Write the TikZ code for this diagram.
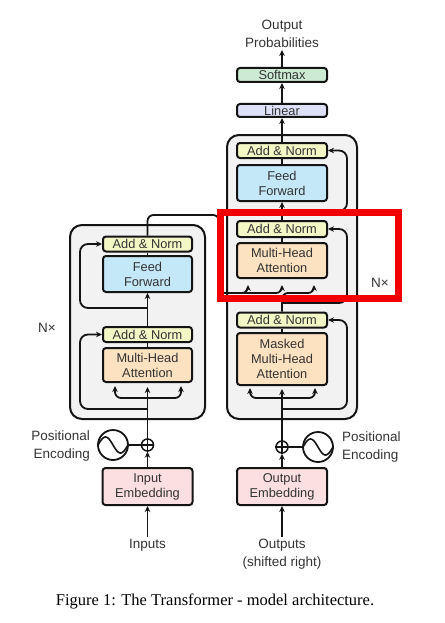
\documentclass[tikz,border=0pt]{standalone}
\usepackage{fontspec}
\setmainfont{Liberation Sans}
\newfontfamily\captionfont{Liberation Serif}
\usetikzlibrary{arrows.meta}
\definecolor{normcol}{HTML}{F3F7C6}
\definecolor{ffcol}{HTML}{C5E8F8}
\definecolor{attcol}{HTML}{FCE2C0}
\definecolor{embcol}{HTML}{FCE0E1}
\definecolor{softcol}{HTML}{CDEBD4}
\definecolor{lincol}{HTML}{DDE0F6}
\definecolor{layercol}{HTML}{F2F2F2}
\definecolor{linecol}{HTML}{141414}
\definecolor{textcol}{HTML}{333333}
\definecolor{markred}{HTML}{F20000}

\begin{document}
\begin{tikzpicture}[x=1pt, y=-1pt,
  block/.style = {draw=linecol, line width=2pt, rounded corners=3pt, text=textcol,
    font=\fontsize{12.8}{15}\selectfont, align=center, inner sep=0pt, minimum width=89pt},
  addnorm/.style = {block, fill=normcol, minimum height=15pt},
  feedfwd/.style = {block, fill=ffcol, minimum height=36pt},
  attn/.style = {block, fill=attcol, minimum height=34pt},
  embed/.style = {block, fill=embcol, minimum height=37pt, minimum width=90pt},
  layer/.style = {draw=linecol, fill=layercol, line width=2pt, rounded corners=12pt},
  plusnode/.style = {circle, draw=linecol, line width=1.5pt, minimum size=12pt, inner sep=0pt},
  wavenode/.style = {circle, draw=linecol, line width=1.8pt, minimum size=30pt, inner sep=0pt},
  lbl/.style = {text=textcol, font=\fontsize{13.5}{18}\selectfont, align=center, inner sep=2pt},
  wire/.style = {draw=linecol, line width=1.8pt},
  arrow/.style = {wire, -{Stealth[length=6pt,width=5.5pt]}},
]
\useasboundingbox (0,0) rectangle (444,623);

% the two stacks
\node [layer, minimum width=135pt, minimum height=194pt] (encLayer) at (137.5,322) {};
\node [layer, minimum width=130pt, minimum height=284pt] (decLayer) at (292,277) {};

% encoder
\node [addnorm] (encAN2) at (147.5,244) {Add \& Norm};
\node [feedfwd] (encFF) at (147.5,274) {Feed\\Forward};
\node [addnorm] (encAN1) at (147.5,334.5) {Add \& Norm};
\node [attn] (encMHA) at (147.5,365) {Multi-Head\\Attention};
\node [plusnode] (encPlus) at (147.5,445) {};
\node [wavenode] (encPE) at (113,445) {};
\node [embed] (encEmb) at (147.5,486.5) {Input\\Embedding};
\node [lbl] (inputs) at (147.5,545) {Inputs};
\node [lbl, anchor=east, align=right] (encPEtext) at (92,446) {Positional\\Encoding};
\node [lbl] (encN) at (47,328) {N×};

% decoder
\node [block, fill=softcol, minimum height=14pt, minimum width=90pt] (decSoft) at (282,75) {Softmax};
\node [block, fill=lincol, minimum height=13pt, minimum width=90pt] (decLin) at (282,110.5) {Linear};
\node [addnorm, minimum width=90pt] (decAN3) at (282,150.5) {Add \& Norm};
\node [feedfwd, minimum width=90pt] (decFF) at (282,183) {Feed\\Forward};
\node [addnorm, minimum width=90pt, minimum height=16pt] (decAN2) at (282,229) {Add \& Norm};
\node [attn, minimum width=90pt, minimum height=35pt] (decMHA) at (282,260.5) {Multi-Head\\Attention};
\node [addnorm, minimum width=90pt] (decAN1) at (282,320) {Add \& Norm};
\node [attn, minimum width=90pt, minimum height=52pt] (decMMHA) at (282,359) {Masked\\Multi-Head\\Attention};
\node [plusnode] (decPlus) at (282,447) {};
\node [wavenode] (decPE) at (318,447) {};
\node [embed] (decEmb) at (282,486.5) {Output\\Embedding};
\node [lbl] (outputs) at (282,554) {Outputs\\(shifted right)};
\node [lbl, anchor=west, align=left] (decPEtext) at (340,447) {Positional\\Encoding};
\node [lbl] (outprob) at (282,34) {Output\\Probabilities};
\node [lbl] (decN) at (380,283) {N×};

% positional encoding
\draw [wire] (encPE) -- (encPlus);
\draw [wire] (decPE) -- (decPlus);
\draw [wire, line width=1.6pt, shift={(encPE.center)}] plot[domain=-1:1, samples=40, smooth] ({15*\x}, {8*sin(180*\x)});
\draw [wire, line width=1.6pt, shift={(decPE.center)}] plot[domain=-1:1, samples=40, smooth] ({15*\x}, {8*sin(180*\x)});
\draw [wire, line width=1.2pt] (encPlus.north) -- (encPlus.south) (encPlus.west) -- (encPlus.east);
\draw [wire, line width=1.2pt] (decPlus.north) -- (decPlus.south) (decPlus.west) -- (decPlus.east);

% encoder flow
\draw [arrow] (inputs.north) -- (encEmb.south);
\draw [arrow] (encEmb.north) -- (encPlus.south);
\draw [arrow, shorten >=4pt] (encPlus.north) -- (encMHA.south);
\coordinate (encSplit) at (147.5,398);
\coordinate (encQ) at (115,386);
\coordinate (encK) at (181,386);
\draw [arrow, rounded corners=6pt] (encSplit) -| (encQ);
\draw [arrow, rounded corners=6pt] (encSplit) -| (encK);
\coordinate (encRes1) at (147.5,409);
\draw [arrow, rounded corners=8pt] (encRes1) -- (80,409) |- (encAN1.west);
\draw [wire] (encMHA.north) -- (encAN1.south);
\draw [arrow] (encAN1.north) -- (encFF.south);
\coordinate (encRes2) at (147.5,308);
\draw [arrow, rounded corners=8pt] (encRes2) -- (80,308) |- (encAN2.west);
\draw [wire] (encFF.north) -- (encAN2.south);

% decoder flow
\draw [arrow] (outputs.north) -- (decEmb.south);
\draw [arrow] (decEmb.north) -- (decPlus.south);
\draw [arrow, shorten >=3pt] (decPlus.north) -- (decMMHA.south);
\coordinate (decMSplit) at (282,398);
\coordinate (decMQ) at (250,388);
\coordinate (decMK) at (315,388);
\draw [arrow, rounded corners=6pt] (decMSplit) -| (decMQ);
\draw [arrow, rounded corners=6pt] (decMSplit) -| (decMK);
\coordinate (decRes1) at (282,409);
\draw [arrow, rounded corners=8pt] (decRes1) -- (347,409) |- (decAN1.east);
\draw [wire] (decMMHA.north) -- (decAN1.south);

% cross attention
\coordinate (encOut) at (219,293);
\coordinate (decKV1) at (248,285);
\coordinate (decKV2) at (282,285);
\coordinate (decQ) at (314,285);
\draw [arrow, rounded corners=6pt] (encAN2.north) |- (219,215) -- (encOut) -| (decKV1);
\draw [arrow, rounded corners=6pt] (encOut) -| (decKV2);
\draw [arrow, rounded corners=6pt] (decAN1.north) -- (282,293) -| (decQ);
\coordinate (decRes2) at (282,303);
\draw [arrow, rounded corners=8pt] (decRes2) -- (347,303) |- (decAN2.east);
\draw [wire] (decMHA.north) -- (decAN2.south);
\draw [arrow] (decAN2.north) -- (decFF.south);
\coordinate (decRes3) at (282,211);
\draw [arrow, rounded corners=8pt] (decRes3) -- (347,211) |- (decAN3.east);
\draw [wire] (decFF.north) -- (decAN3.south);
\draw [arrow] (decAN3.north) -- (decLin.south);
\draw [arrow] (decLin.north) -- (decSoft.south);
\draw [arrow] (decSoft.north) -- (outprob.south);

% highlight
\draw [markred, line width=7pt] (220.5,212.5) rectangle (398.5,298.5);

\node [font=\captionfont\fontsize{16.5}{20}\selectfont, inner sep=0pt] (caption) at (215,601) {Figure 1: The Transformer - model architecture.};
\end{tikzpicture}
\end{document}
